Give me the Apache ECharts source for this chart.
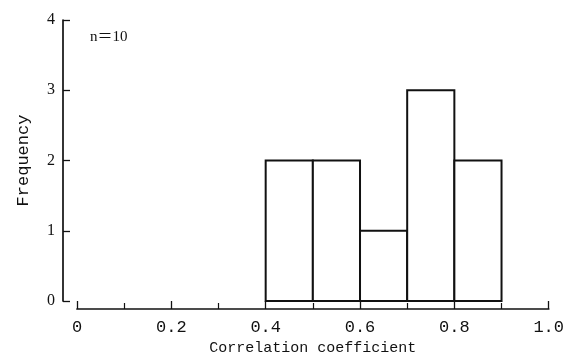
<!DOCTYPE html>
<html>
<head>
<meta charset="utf-8">
<script src="https://cdn.jsdelivr.net/npm/echarts@6/dist/echarts.min.js"></script>
<style>
  html, body { margin: 0; padding: 0; background: #fff; }
  #chart { width: 567px; height: 361px; }
</style>
</head>
<body>
<div id="chart"></div>
<script>
// Histogram of correlation coefficients (n = 10)
const binLower = [0.4, 0.5, 0.6, 0.7, 0.8];
const binUpper = [0.5, 0.6, 0.7, 0.8, 0.9];
const frequencies = [2, 2, 1, 3, 2];
const sampleLabel = 'n\uFF1D10';

const bins = binLower.map((lo, i) => [lo, binUpper[i], frequencies[i]]);

const ink = '#111';
const monoFont = "'Liberation Mono', monospace";
const serifFont = "'Liberation Serif', 'Noto Sans CJK JP', serif";

const chart = echarts.init(document.getElementById('chart'), null, { renderer: 'canvas' });

chart.setOption({
  animation: false,
  backgroundColor: '#fff',
  grid: { left: 77, right: 14, top: 20, bottom: 60 },
  xAxis: {
    type: 'value',
    min: 0,
    max: 1,
    interval: 0.2,
    offset: 8,
    name: 'Correlation coefficient',
    nameLocation: 'middle',
    nameGap: 30,
    nameTextStyle: { fontFamily: monoFont, fontSize: 15, color: ink },
    axisLine: { show: true, onZero: false, lineStyle: { color: ink, width: 1.7 } },
    axisTick: { show: true, inside: true, length: 8, lineStyle: { color: ink, width: 1.3 } },
    minorTick: { show: true, splitNumber: 2, length: 6, lineStyle: { color: ink, width: 1.2 } },
    axisLabel: {
      margin: 10,
      fontFamily: monoFont,
      fontSize: 17,
      color: ink,
      formatter: v => (v === 0 ? '0' : v.toFixed(1))
    },
    splitLine: { show: false }
  },
  yAxis: {
    type: 'value',
    min: 0,
    max: 4,
    interval: 1,
    offset: 14,
    name: 'Frequency',
    nameLocation: 'middle',
    nameGap: 31,
    nameTextStyle: { fontFamily: monoFont, fontSize: 17, color: ink },
    axisLine: { show: true, onZero: false, lineStyle: { color: ink, width: 1.7 } },
    axisTick: { show: true, inside: true, length: 7, lineStyle: { color: ink, width: 1.3 } },
    axisLabel: { margin: 8, fontFamily: serifFont, fontSize: 16, color: ink },
    splitLine: { show: false }
  },
  graphic: [{
    type: 'text',
    left: 90,
    top: 30,
    style: { text: sampleLabel, fontFamily: serifFont, fontSize: 15, fill: ink }
  }],
  series: [{
    type: 'custom',
    data: bins,
    encode: { x: [0, 1], y: 2 },
    renderItem: function (params, api) {
      const lo = api.value(0);
      const hi = api.value(1);
      const count = api.value(2);
      const p0 = api.coord([lo, 0]);
      const p1 = api.coord([hi, count]);
      return {
        type: 'rect',
        shape: { x: p0[0], y: p1[1], width: p1[0] - p0[0], height: p0[1] - p1[1] },
        style: { fill: '#fff', stroke: ink, lineWidth: 2 }
      };
    }
  }]
});
</script>
</body>
</html>
